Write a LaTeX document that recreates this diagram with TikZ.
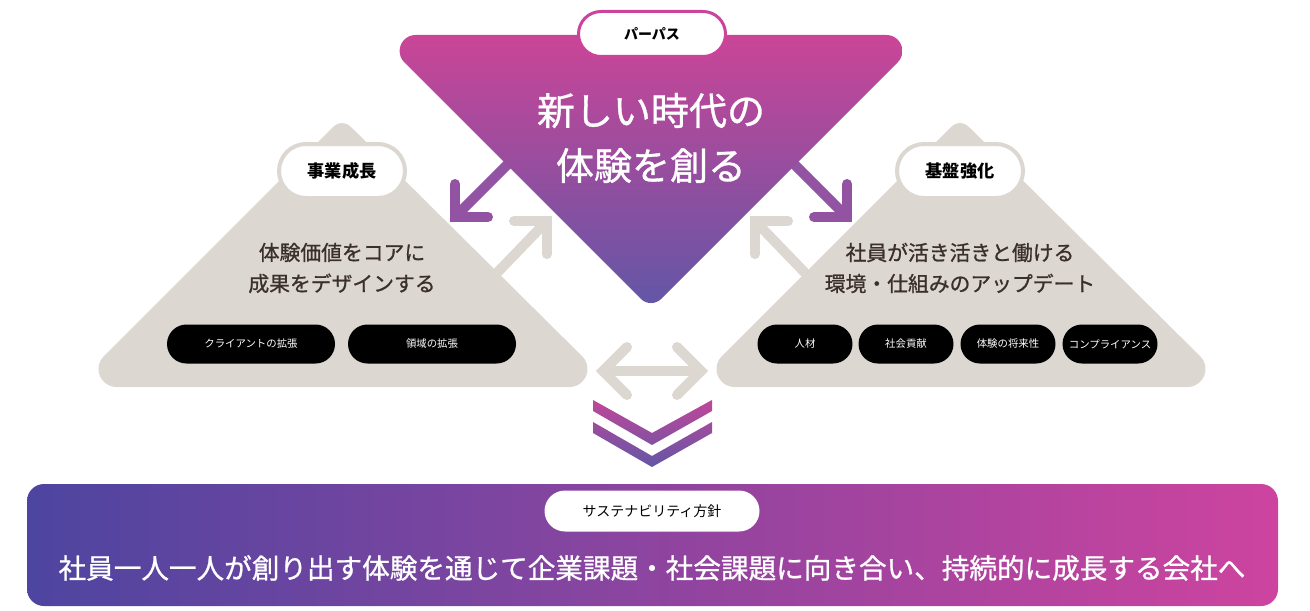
\documentclass[tikz,border=0pt]{standalone}
\usepackage{fontspec}
\newfontfamily\jp{Noto Sans CJK JP}
\newfontfamily\jpmed[FakeBold=0.9]{Noto Sans CJK JP}
\definecolor{pgray}{HTML}{DCD7D0}
\definecolor{ptop}{HTML}{CA4597}
\definecolor{pbottom}{HTML}{6356A6}
\definecolor{parrow}{HTML}{9254A2}
\definecolor{ppink}{HTML}{C9449A}
\definecolor{ptext}{HTML}{3A2F29}
\definecolor{bleft}{HTML}{4D45A0}
\definecolor{bmid}{HTML}{8049AF}
\definecolor{bright}{HTML}{CD449F}
\begin{document}
\begin{tikzpicture}[x=0.5pt,y=-0.5pt,
  pill/.style={draw=pgray, line width=2pt, fill=white, rounded corners=13.5pt,
    minimum width=63pt, minimum height=27pt, inner sep=0pt,
    font=\jp\bfseries\fontsize{8.6}{10}\selectfont},
  chip/.style={fill=black, text=white, rounded corners=9.75pt, minimum height=19.5pt,
    inner sep=0pt, font=\jp\fontsize{5.2}{6}\selectfont},
  fat arrow/.style={line width=5pt, line cap=round, line join=miter},
  tri text/.style={text=ptext, align=center, font=\jpmed\fontsize{10.4}{15.5}\selectfont},
]
  \useasboundingbox (0,0) rectangle (1310,610);

  % gray arrows (up to the purpose)
  \coordinate (lgStart) at (493,277);
  \coordinate (lgTip) at (547,221);
  \coordinate (rgStart) at (809,277);
  \coordinate (rgTip) at (755,221);
  \draw[line width=5pt, pgray] (lgStart) -- (lgTip);
  \draw[fat arrow, pgray] (547,254) -- (lgTip) -- (514,221);
  \draw[line width=5pt, pgray] (rgStart) -- (rgTip);
  \draw[fat arrow, pgray] (755,254) -- (rgTip) -- (788,221);

  % gray triangles
  \foreach \dx in {0,618} {
    \fill[pgray, shift={(\dx,0)}] (116.5,387) arc[start angle=90, end angle=225, radius=18]
      -- (333.5,126.5) arc[start angle=225, end angle=315, radius=12]
      -- (582.2,356.3) arc[start angle=315, end angle=450, radius=18] -- cycle;
  }

  % purple arrows (down from the purpose)
  \coordinate (lpStart) at (512,160);
  \coordinate (lpTip) at (455,217);
  \coordinate (rpStart) at (790,160);
  \coordinate (rpTip) at (847,217);
  \draw[line width=5pt, parrow] (lpStart) -- (lpTip);
  \draw[fat arrow, parrow] (455,184) -- (lpTip) -- (488,217);
  \draw[line width=5pt, parrow] (rpStart) -- (rpTip);
  \draw[fat arrow, parrow] (847,184) -- (rpTip) -- (814,217);

  % purpose triangle
  \shade[top color=ptop, bottom color=pbottom]
    (415.6,35) -- (886.4,35) arc[start angle=270, end angle=405, radius=16]
    -- (661.3,298.8) arc[start angle=45, end angle=135, radius=14.5]
    -- (404.3,62.3) arc[start angle=135, end angle=270, radius=16] -- cycle;
  \node[pill, draw=ppink, line width=1.5pt, minimum width=73.5pt, minimum height=22.5pt,
    rounded corners=11.25pt, font=\jp\bfseries\fontsize{7}{8}\selectfont]
    (purpose) at (652,34) {パーパス};
  \node[text=white, align=center, font=\jpmed\fontsize{19}{27.5}\selectfont]
    (vision) at (651,138) {新しい時代の\\体験を創る};

  % business growth
  \node[pill] (growth) at (342,171) {事業成長};
  \node[tri text] (growthText) at (342,268) {体験価値をコアに\\成果をデザインする};
  \node[chip, minimum width=84pt] (client) at (251,344) {クライアントの拡張};
  \node[chip, minimum width=84pt] (domain) at (432,344) {領域の拡張};

  % foundation
  \node[pill] (base) at (960,171) {基盤強化};
  \node[tri text] (baseText) at (960,268) {社員が活き活きと働ける\\環境・仕組みのアップデート};
  \node[chip, minimum width=47.5pt] (people) at (805,344) {人材};
  \node[chip, minimum width=47.5pt] (society) at (906,344) {社会貢献};
  \node[chip, minimum width=47.5pt] (future) at (1008,344) {体験の将来性};
  \node[chip, minimum width=47.5pt] (comply) at (1110,344) {コンプライアンス};

  % both ways
  \coordinate (hLeft) at (603,371);
  \coordinate (hRight) at (701,371);
  \draw[line width=5pt, pgray] (hLeft) -- (hRight);
  \draw[fat arrow, pgray] (627,347) -- (hLeft) -- (627,395);
  \draw[fat arrow, pgray] (677,347) -- (hRight) -- (677,395);

  % chevrons
  \shade[top color=ptop!90!pbottom, bottom color=pbottom]
    (593,400) -- (652,433) -- (712,400) -- (712,411) -- (652,445) -- (593,411) -- cycle
    (593,422) -- (652,456) -- (712,422) -- (712,433) -- (652,467) -- (593,433) -- cycle;

  % sustainability policy
  \shade[left color=bleft, middle color=bmid, right color=bright, rounded corners=8.5pt]
    (27,484) rectangle (1278,606);
  \node[fill=white, rounded corners=10.25pt, minimum width=107.5pt, minimum height=20.5pt,
    inner sep=0pt, font=\jp\fontsize{7}{8}\selectfont] (policy) at (652,511) {サステナビリティ方針};
  \node[text=white, font=\jpmed\fontsize{13.8}{16}\selectfont]
    (mission) at (652,568) {社員一人一人が創り出す体験を通じて企業課題・社会課題に向き合い、持続的に成長する会社へ};

\end{tikzpicture}
\end{document}
